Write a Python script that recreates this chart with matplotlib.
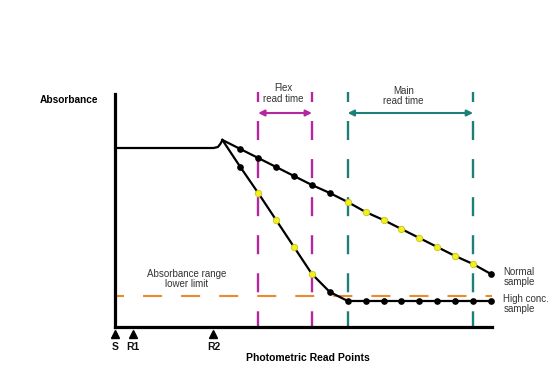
import matplotlib
matplotlib.use("Agg")
import matplotlib.pyplot as plt
import numpy as np

plt.rcParams['font.family'] = ['Liberation Sans', 'DejaVu Sans']
plt.rcParams['lines.scale_dashes'] = False

# ---- data (read point index vs absorbance, arbitrary units) ----
baseline_x = [0, 5.5, 5.75, 5.9, 6]
baseline_y = [17.9, 17.9, 18.0, 18.35, 18.7]

read_idx = [6, 7, 8, 9, 10, 11, 12, 13, 14, 15, 16, 17, 18, 19, 20, 21]
normal_sample = [18.7, 17.8, 16.9, 16.0, 15.1, 14.2, 13.4, 12.5, 11.5, 10.7,
                 9.8, 8.9, 8.0, 7.1, 6.3, 5.3]
high_conc = [18.7, 16.0, 13.4, 10.7, 8.0, 5.3, 3.5, 2.6, 2.6, 2.6,
             2.6, 2.6, 2.6, 2.6, 2.6, 2.6]

flex_window = [8, 11]
main_window = [13, 20]
lower_limit = 3.1

tick_pos = [0, 1, 5.5]
tick_labels = ['S', 'R1', 'R2']

# ---- styles ----
MAG = '#b5279f'
TEAL = '#1c7f78'
ORANGE = '#ec8a2e'
YEL = '#f4f01e'

fig = plt.figure(figsize=(5.58, 3.82), dpi=100)
ax = fig.add_axes([115/558, (382-327)/382, (492-115)/558, (327-94)/382])
ax.set_xlim(0, 21.06)
ax.set_ylim(0, 23.3)
for s in ['top', 'right']:
    ax.spines[s].set_visible(False)
for s in ['left', 'bottom']:
    ax.spines[s].set_linewidth(2.3)
    ax.spines[s].set_color('black')
ax.set_xticks([])
ax.set_yticks([])

# orange lower limit
ax.plot([0, 21.06], [lower_limit, lower_limit], color=ORANGE, lw=1.5,
        linestyle=(7.2, (13.7, 13.7)), dash_capstyle='butt', zorder=1)

# vertical window lines
for xw, c in [(flex_window[0], MAG), (flex_window[1], MAG),
              (main_window[0], TEAL), (main_window[1], TEAL)]:
    ax.plot([xw, xw], [23.5, 0], color=c, lw=1.7,
            linestyle=(6.5, (13.7, 13.7)), clip_on=False, zorder=1)

# arrows
ax.annotate('', xy=(flex_window[0], 21.4), xytext=(flex_window[1], 21.4),
            arrowprops=dict(arrowstyle='<|-|>', color=MAG, lw=1.5,
                            mutation_scale=9, shrinkA=0, shrinkB=0),
            annotation_clip=False)
ax.annotate('', xy=(main_window[0], 21.4), xytext=(main_window[1], 21.4),
            arrowprops=dict(arrowstyle='<|-|>', color=TEAL, lw=1.5,
                            mutation_scale=9, shrinkA=0, shrinkB=0),
            annotation_clip=False)

# baseline
ax.plot(baseline_x, baseline_y, color='black', lw=1.6, zorder=3,
        solid_joinstyle='round')

# series lines
rx = np.array(read_idx)
ax.plot(rx, normal_sample, color='black', lw=1.6, zorder=3, clip_on=False)
ax.plot(rx, high_conc, color='black', lw=1.6, zorder=3, clip_on=False)

# markers
def mark(series, window):
    xs = rx[1:]
    ys = np.array(series)[1:]
    inside = (xs >= window[0]) & (xs <= window[1])
    ax.plot(xs[~inside], ys[~inside], 'o', color='black', ms=3.8,
            zorder=4, clip_on=False)
    ax.plot(xs[inside], ys[inside], 'o', mfc=YEL, mec='#c9c31a', mew=0.6,
            ms=4.6, zorder=4, clip_on=False)

mark(normal_sample, main_window)
mark(high_conc, flex_window)

# triangles & labels on x axis
ax.plot(tick_pos, [-0.7]*len(tick_pos), '^', color='black', ms=6,
        clip_on=False)
for p, l in zip(tick_pos, tick_labels):
    ax.text(p, -2.0, l, ha='center', va='center', fontsize=7.5,
            fontweight='bold', color='#111111')

# text
ax.text(-2.57, 22.7, 'Absorbance', ha='center', va='center', fontsize=7.3,
        fontweight='bold')
ax.text(10.78, -3.1, 'Photometric Read Points', ha='center', va='center',
        fontsize=7.5, fontweight='bold')
ax.text(9.4, 23.35, 'Flex\nread time', ha='center', va='center', fontsize=7,
        color='#333333', linespacing=1.05)
ax.text(16.1, 23.1, 'Main\nread time', ha='center', va='center', fontsize=7,
        color='#333333', linespacing=1.05)
ax.text(4.0, 4.8, 'Absorbance range\nlower limit', ha='center', va='center',
        fontsize=7, color='#333333', linespacing=1.05)
ax.text(21.7, 5.0, 'Normal\nsample', ha='left', va='center', fontsize=7,
        color='#333333', linespacing=1.05)
ax.text(21.7, 2.3, 'High conc.\nsample', ha='left', va='center', fontsize=7,
        color='#333333', linespacing=1.05)

fig.savefig('out.png', dpi=100)
